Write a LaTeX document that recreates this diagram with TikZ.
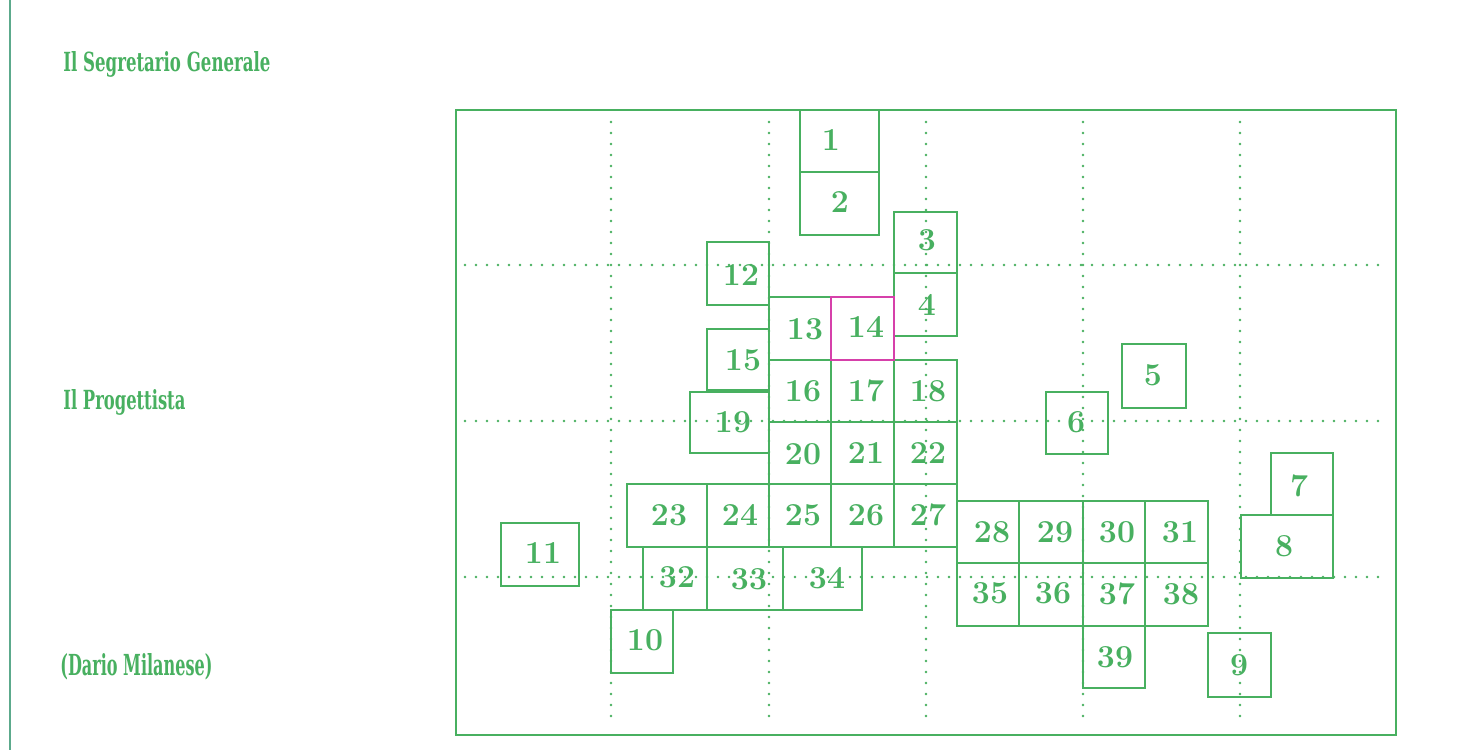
\documentclass[tikz,border=0pt]{standalone}
\usepackage{fontspec}
\usepackage{graphicx}
\newfontfamily\sidefont{DejaVu Serif}
\definecolor{gr}{RGB}{72,176,96}
\definecolor{mg}{RGB}{214,64,170}
\definecolor{framec}{RGB}{92,170,140}
\newcommand\cellat[8]{%
 \pgfmathsetmacro\cw{(#4-#2)*0.5}\pgfmathsetmacro\ch{(#5-#3)*0.5}%
 \node[cell, minimum width=\cw pt, minimum height=\ch pt, #6] (c#1) at ({(#2+#4)/2},{(#3+#5)/2}) {};%
 \node[num] (n#1) at (#7,#8) {#1};}
\begin{document}
\begin{tikzpicture}[x=0.5pt,y=-0.5pt,
 cell/.style={draw=gr, line width=1pt, rectangle, inner sep=0pt, outer sep=0pt},
 num/.style={text=gr, font=\fontsize{16}{16}\selectfont\bfseries, inner sep=0pt},
 gridline/.style={draw=gr, line width=1.4pt, line cap=round, dash pattern=on 0pt off 5.5pt},
 side/.style={text=gr, inner sep=0pt, anchor=base west}]
\useasboundingbox (0,0) rectangle (1469,750);
\fill[white] (0,0) rectangle (1469,750);
\draw[draw=framec, line width=1pt] (10,0) -- (10,750);
\draw[gr, line width=1pt] (456,110) rectangle (1396,735);
\foreach \x in {611,769,926,1083,1240} \draw[gridline] (\x,122) -- (\x,722);
\foreach \y in {265,421,577} \draw[gridline] (465,\y) -- (1387,\y);
\node[side] (sg) at (63,71) {\resizebox{103.5pt}{10pt}{\sidefont\bfseries Il Segretario Generale}};
\node[side] (pg) at (63,409) {\resizebox{61pt}{10pt}{\sidefont\bfseries Il Progettista}};
\node[side] (dm) at (60,675) {\resizebox{76pt}{11pt}{\sidefont\bfseries (Dario Milanese)}};
\cellat{1}{800}{110}{879}{172}{}{831}{140}
\cellat{2}{800}{172}{879}{235}{}{840}{202}
\cellat{3}{894}{212}{957}{273}{}{927}{240}
\cellat{4}{894}{273}{957}{336}{}{927}{305}
\cellat{5}{1122}{344}{1186}{408}{}{1153}{375}
\cellat{6}{1046}{392}{1108}{454}{}{1076}{422}
\cellat{7}{1271}{453}{1333}{515}{}{1299}{486}
\cellat{8}{1241}{515}{1333}{578}{}{1284}{546}
\cellat{9}{1208}{633}{1271}{697}{}{1239}{665}
\cellat{10}{611}{610}{673}{673}{}{645}{640}
\cellat{11}{501}{523}{579}{586}{}{543}{553}
\cellat{12}{707}{242}{769}{305}{}{741}{275}
\cellat{13}{769}{297}{831}{360}{}{805}{329}
\cellat{15}{707}{329}{769}{390}{}{743}{360}
\cellat{16}{769}{360}{831}{422}{}{803}{391}
\cellat{17}{831}{360}{894}{422}{}{866}{391}
\cellat{18}{894}{360}{957}{422}{}{928}{391}
\cellat{19}{690}{392}{769}{453}{}{733}{422}
\cellat{20}{769}{422}{831}{484}{}{803}{454}
\cellat{21}{831}{422}{894}{484}{}{866}{453}
\cellat{22}{894}{422}{957}{484}{}{928}{453}
\cellat{23}{627}{484}{707}{547}{}{669}{515}
\cellat{24}{707}{484}{769}{547}{}{740}{515}
\cellat{25}{769}{484}{831}{547}{}{803}{515}
\cellat{26}{831}{484}{894}{547}{}{866}{515}
\cellat{27}{894}{484}{957}{547}{}{928}{515}
\cellat{28}{957}{501}{1019}{563}{}{992}{532}
\cellat{29}{1019}{501}{1083}{563}{}{1055}{532}
\cellat{30}{1083}{501}{1145}{563}{}{1117}{532}
\cellat{31}{1145}{501}{1208}{563}{}{1180}{532}
\cellat{32}{643}{547}{707}{610}{}{677}{577}
\cellat{33}{707}{547}{783}{610}{}{749}{579}
\cellat{34}{783}{547}{862}{610}{}{827}{578}
\cellat{35}{957}{563}{1019}{626}{}{990}{593}
\cellat{36}{1019}{563}{1083}{626}{}{1053}{593}
\cellat{37}{1083}{563}{1145}{626}{}{1117}{594}
\cellat{38}{1145}{563}{1208}{626}{}{1181}{594}
\cellat{39}{1083}{626}{1145}{688}{}{1115}{657}
\cellat{14}{831}{297}{894}{360}{draw=mg}{866}{327}
\end{tikzpicture}
\end{document}
